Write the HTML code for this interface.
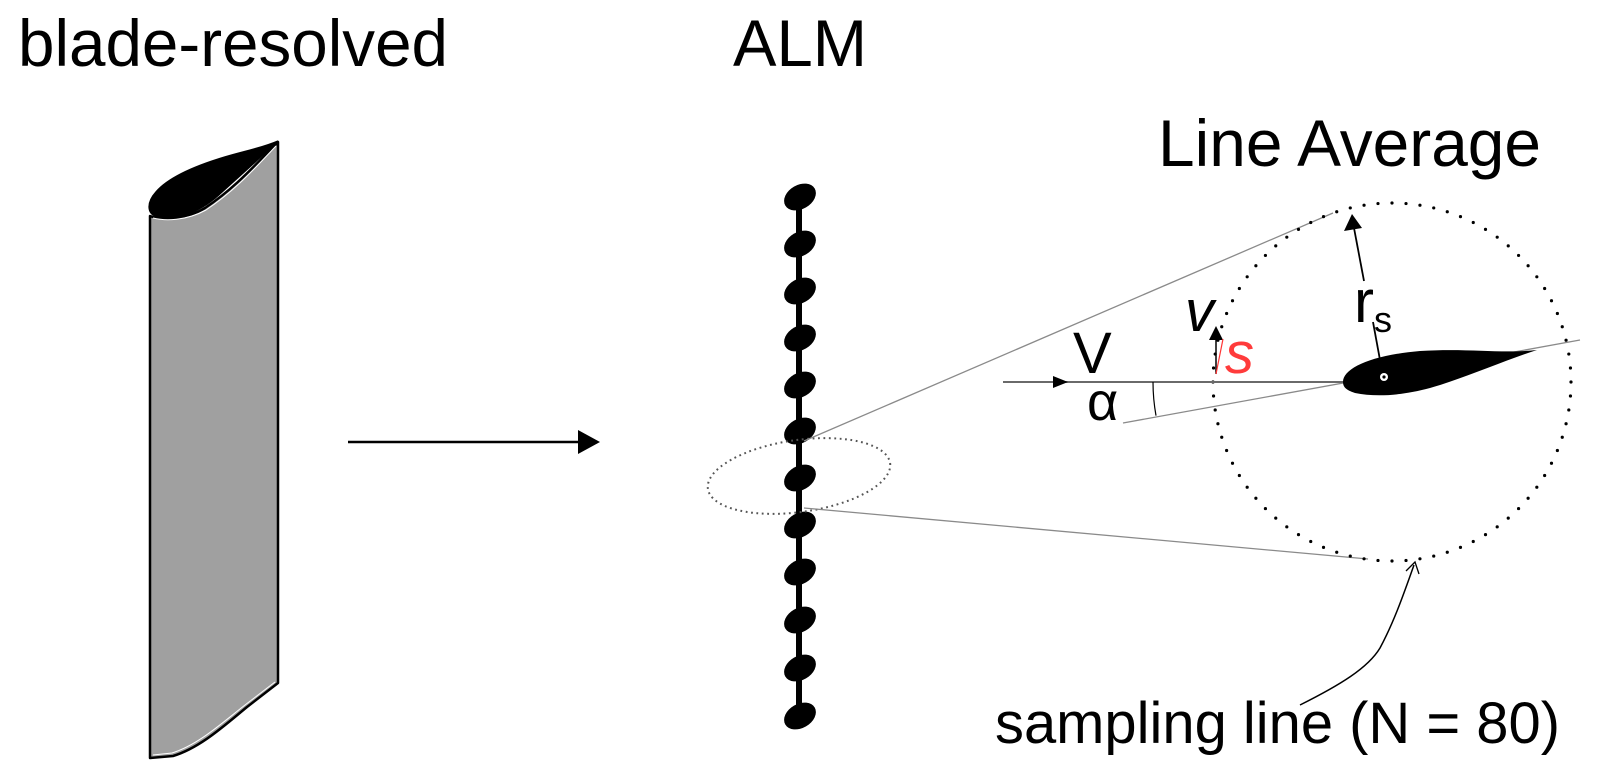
<!DOCTYPE html>
<html>
<head>
<meta charset="utf-8">
<style>
  html, body { margin: 0; padding: 0; background: #ffffff; }
  body { width: 1600px; height: 782px; overflow: hidden; }
  svg { display: block; }
  text { font-family: "Liberation Sans", Arial, sans-serif; fill: #000; }
</style>
</head>
<body>
<svg width="1600" height="782" viewBox="0 0 1600 782" xmlns="http://www.w3.org/2000/svg">
  <rect width="1600" height="782" fill="#fff"/>

  <!-- Titles -->
  <text x="18" y="66" font-size="66" textLength="430" lengthAdjust="spacingAndGlyphs">blade-resolved</text>
  <text x="733" y="66" font-size="66" textLength="134" lengthAdjust="spacingAndGlyphs">ALM</text>
  <text x="1158" y="166" font-size="66" textLength="383" lengthAdjust="spacingAndGlyphs">Line Average</text>

  <!-- Blade-resolved blade -->
  <path d="M150,216 C160,220 185,220 205,208 C235,188 255,165 278,142 L278,683 L247,707 C225,725 200,748 173,756 L150,758 Z"
        fill="#a0a0a0" stroke="#000" stroke-width="2.5" stroke-linejoin="round"/>
  <path d="M153,218 C165,221 186,221 206,210 C236,190 256,167 276,146" fill="none" stroke="#fff" stroke-width="1"/>
  <path d="M153,755 L172,753 C198,745 222,723 245,705 L275,682" fill="none" stroke="#fff" stroke-width="1"/>
  <path d="M278,141 C262,148 245,151 225,157 C195,166 168,178 156,192 C147,202 146,214 158,217 C180,221 203,210 222,192 C243,173 262,156 278,141 Z"
        fill="#000" stroke="#000" stroke-width="1.5"/>

  <!-- Main arrow -->
  <line x1="348" y1="442" x2="582" y2="442" stroke="#000" stroke-width="2.5"/>
  <polygon points="600,442 578,430 578,454" fill="#000"/>

  <!-- ALM -->
  <line x1="799" y1="197" x2="799" y2="716" stroke="#000" stroke-width="6"/>
  <g fill="#000">
    <ellipse cx="800" cy="197" rx="17" ry="12" transform="rotate(-30 800 197)"/>
    <ellipse cx="800" cy="244" rx="17" ry="12" transform="rotate(-30 800 244)"/>
    <ellipse cx="800" cy="291" rx="17" ry="12" transform="rotate(-30 800 291)"/>
    <ellipse cx="800" cy="338" rx="17" ry="12" transform="rotate(-30 800 338)"/>
    <ellipse cx="800" cy="385" rx="17" ry="12" transform="rotate(-30 800 385)"/>
    <ellipse cx="800" cy="431" rx="17" ry="12" transform="rotate(-30 800 431)"/>
    <ellipse cx="800" cy="478" rx="17" ry="12" transform="rotate(-30 800 478)"/>
    <ellipse cx="800" cy="525" rx="17" ry="12" transform="rotate(-30 800 525)"/>
    <ellipse cx="800" cy="572" rx="17" ry="12" transform="rotate(-30 800 572)"/>
    <ellipse cx="800" cy="620" rx="17" ry="12" transform="rotate(-30 800 620)"/>
    <ellipse cx="800" cy="668" rx="17" ry="12" transform="rotate(-30 800 668)"/>
    <ellipse cx="800" cy="716" rx="17" ry="12" transform="rotate(-30 800 716)"/>
  </g>

  <!-- dotted selection ellipse -->
  <ellipse cx="799" cy="476" rx="92" ry="36" transform="rotate(-8 799 476)"
           fill="none" stroke="#555" stroke-width="2" stroke-dasharray="1.8 3.6"/>

  <!-- tangent lines -->
  <line x1="804" y1="441" x2="1333" y2="213" stroke="#8a8a8a" stroke-width="1.3"/>
  <line x1="804" y1="508" x2="1368" y2="559" stroke="#8a8a8a" stroke-width="1.3"/>

  <!-- Sampling circle (N = 80 points) -->
  <circle cx="1392" cy="382" r="179" fill="none" stroke="#000" stroke-width="3.2"
          stroke-linecap="round" pathLength="80" stroke-dasharray="0 1"/>

  <!-- chord line -->
  <line x1="1123" y1="423" x2="1580" y2="340" stroke="#8a8a8a" stroke-width="1.3"/>
  <!-- freestream line -->
  <line x1="1003" y1="382" x2="1345" y2="382" stroke="#6a6a6a" stroke-width="2"/>
  <polygon points="1068,382 1053,376 1053,388" fill="#000"/>

  <!-- alpha arc -->
  <path d="M1153,382 A190,190 0 0 0 1156,415.6" fill="none" stroke="#000" stroke-width="1.2"/>

  <!-- airfoil -->
  <path d="M1343,382 C1343,368 1372,355 1420,351 C1470,348 1500,354 1537,350 C1505,360 1465,378 1430,388 C1400,396 1375,397 1355,393 C1346,390 1343,387 1343,382 Z" fill="#000"/>
  <circle cx="1384" cy="377" r="4" fill="#fff"/>
  <circle cx="1384" cy="377" r="1.6" fill="#000"/>

  <!-- r_s arrow -->
  <line x1="1380" y1="360" x2="1373" y2="322" stroke="#000" stroke-width="1.8"/>
  <line x1="1364" y1="281" x2="1354" y2="228" stroke="#000" stroke-width="1.8"/>
  <polygon points="1352,214 1344,231 1362,228" fill="#000"/>
  <text x="1354" y="322" font-size="60">r</text>
  <text x="1374" y="332" font-size="36">s</text>

  <!-- v arrow with s -->
  <line x1="1216" y1="374" x2="1216" y2="338" stroke="#000" stroke-width="1.5"/>
  <polygon points="1216,326 1209,340 1223,340" fill="#000"/>
  <line x1="1216" y1="374" x2="1223" y2="339" stroke="#ff3333" stroke-width="1.2"/>
  <text x="1185" y="331" font-size="58" font-style="italic">v</text>
  <text x="1225" y="373" font-size="58" font-style="italic" fill="#ff3b3b" style="fill:#ff3b3b">s</text>

  <!-- V and alpha -->
  <text x="1073" y="373" font-size="58">V</text>
  <text x="1087" y="420" font-size="54">α</text>

  <!-- sampling line pointer -->
  <path d="M1300,705 C1340,685 1368,668 1380,648 C1395,620 1405,590 1414,565" fill="none" stroke="#000" stroke-width="1.5"/>
  <polyline points="1406,571 1415,562 1419,574" fill="none" stroke="#000" stroke-width="1.3"/>

  <text x="995" y="743" font-size="58" textLength="565" lengthAdjust="spacingAndGlyphs">sampling line (N = 80)</text>
</svg>
</body>
</html>
